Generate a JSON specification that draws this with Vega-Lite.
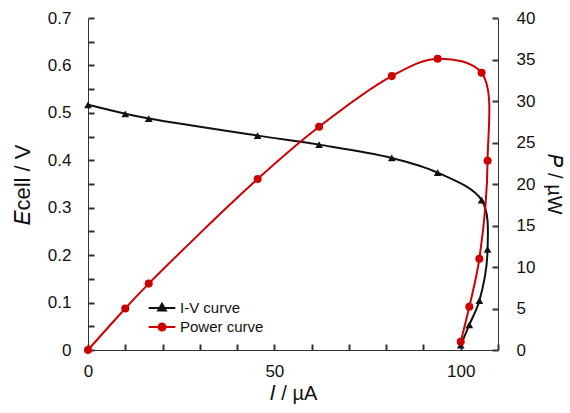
{
  "$schema": "https://vega.github.io/schema/vega-lite/v6.json",
  "width": 410,
  "height": 332,
  "autosize": "none",
  "padding": {"left": 88, "top": 18, "right": 72, "bottom": 63},
  "background": "white",
  "config": {
    "view": {"stroke": null},
    "font": "Liberation Sans",
    "axis": {
      "grid": false,
      "labelFont": "Liberation Sans",
      "labelFontSize": 17,
      "labelColor": "#111",
      "labelFlush": false,
      "titleFont": "Liberation Sans",
      "titleFontWeight": "normal",
      "titleColor": "#111"
    }
  },
  "datasets": {
    "cell": [
      {"step": 1, "I": 0, "E": 0.517, "P": 0},
      {"step": 2, "I": 10, "E": 0.498, "P": 5.0},
      {"step": 3, "I": 16.3, "E": 0.488, "P": 8.0},
      {"step": 4, "I": 45.5, "E": 0.452, "P": 20.6},
      {"step": 5, "I": 62, "E": 0.433, "P": 26.9},
      {"step": 6, "I": 81.5, "E": 0.405, "P": 33.0},
      {"step": 7, "I": 93.8, "E": 0.374, "P": 35.1},
      {"step": 8, "I": 105.6, "E": 0.316, "P": 33.4},
      {"step": 9, "I": 107.2, "E": 0.212, "P": 22.8},
      {"step": 10, "I": 105.0, "E": 0.104, "P": 11.0},
      {"step": 11, "I": 102.3, "E": 0.053, "P": 5.2},
      {"step": 12, "I": 100.0, "E": 0.010, "P": 1.0}
    ]
  },
  "layer": [
    {
      "data": {"values": []},
      "mark": {"type": "point", "opacity": 0},
      "encoding": {
        "x": {
          "field": "I", "type": "quantitative",
          "axis": {
            "orient": "bottom", "offset": -6, "domain": false, "labels": false, "title": null,
            "ticks": true, "tickSize": 6, "tickColor": "#333", "tickWidth": 2,
            "values": [0, 10, 20, 30, 40, 50, 60, 70, 80, 90, 100, 110]
          }
        },
        "y": {
          "field": "E", "type": "quantitative",
          "scale": {"domain": [0, 0.7], "nice": false},
          "axis": {
            "orient": "left", "offset": -6, "domain": false, "labels": false, "title": null,
            "ticks": true, "tickSize": 6, "tickColor": "#333", "tickWidth": 2,
            "values": [0, 0.05, 0.1, 0.15, 0.2, 0.25, 0.3, 0.35, 0.4, 0.45, 0.5, 0.55, 0.6, 0.65, 0.7]
          }
        }
      }
    },
    {
      "data": {"values": []},
      "mark": {"type": "point", "opacity": 0},
      "encoding": {
        "y": {
          "field": "P", "type": "quantitative",
          "scale": {"domain": [0, 40], "nice": false},
          "axis": {
            "orient": "right", "offset": -6, "domain": false, "labels": false, "title": null,
            "ticks": true, "tickSize": 6, "tickColor": "#333", "tickWidth": 2,
            "values": [0, 5, 10, 15, 20, 25, 30, 35, 40]
          }
        }
      }
    },
    {
      "data": {"name": "cell"},
      "mark": {
        "type": "line",
        "interpolate": "catmull-rom",
        "color": "#111",
        "strokeWidth": 2,
        "point": {"filled": true, "shape": "triangle-up", "size": 60, "color": "#111", "opacity": 1}
      },
      "encoding": {
        "x": {
          "field": "I", "type": "quantitative",
          "scale": {"domain": [0, 110], "nice": false, "zero": false},
          "axis": {
            "orient": "bottom",
            "title": "𝐼 / µA",
            "titleFontSize": 20,
            "titlePadding": 4,
            "values": [0, 50, 100],
            "labelOverlap": false,
            "domain": true,
            "domainColor": "#333",
            "ticks": false,
            "labelPadding": 13
          }
        },
        "y": {
          "field": "E", "type": "quantitative",
          "scale": {"domain": [0, 0.7], "nice": false},
          "axis": {
            "orient": "left",
            "title": "𝐸cell / V",
            "titleFontSize": 22,
            "titlePadding": 13,
            "values": [0, 0.1, 0.2, 0.3, 0.4, 0.5, 0.6, 0.7],
            "format": ".1~f",
            "labelOverlap": false,
            "domain": true,
            "domainColor": "#333",
            "ticks": false,
            "labelPadding": 17
          }
        },
        "order": {"field": "step", "type": "quantitative"}
      }
    },
    {
      "data": {"name": "cell"},
      "mark": {
        "type": "line",
        "interpolate": "catmull-rom",
        "color": "#cc0000",
        "strokeWidth": 2,
        "point": {"filled": true, "shape": "circle", "size": 65, "color": "#cc0000", "opacity": 1}
      },
      "encoding": {
        "x": {"field": "I", "type": "quantitative", "axis": null},
        "y": {
          "field": "P", "type": "quantitative",
          "scale": {"domain": [0, 40], "nice": false},
          "axis": {
            "orient": "right",
            "title": "𝑃 / µW",
            "titleFontSize": 20,
            "titlePadding": 9,
            "values": [0, 5, 10, 15, 20, 25, 30, 35, 40],
            "labelOverlap": false,
            "domain": true,
            "domainColor": "#333",
            "ticks": false,
            "labelPadding": 18
          }
        },
        "order": {"field": "step", "type": "quantitative"}
      }
    },
    {
      "data": {"values": []},
      "mark": {"type": "point", "filled": true, "strokeWidth": 2, "opacity": 1},
      "encoding": {
        "fill": {
          "field": "key", "type": "nominal",
          "scale": {"domain": ["I-V curve", "Power curve"], "range": ["#111", "#cc0000"]},
          "legend": {
            "title": null,
            "orient": "none",
            "legendX": 66,
            "legendY": 282,
            "symbolSize": 196,
            "symbolStrokeWidth": 2,
            "symbolOpacity": 1,
            "labelFontSize": 15,
            "labelFont": "Liberation Sans",
            "labelColor": "#111",
            "labelOffset": 10,
            "rowPadding": 3
          }
        },
        "stroke": {
          "field": "key", "type": "nominal",
          "scale": {"domain": ["I-V curve", "Power curve"], "range": ["#111", "#cc0000"]}
        },
        "shape": {
          "field": "key", "type": "nominal",
          "scale": {
            "domain": ["I-V curve", "Power curve"],
            "range": [
              "M-1.9,0H1.9M0,-0.6L0.55,0.35L-0.55,0.35Z",
              "M-1.9,0H1.9M0.5,0A0.5,0.5 0 1,1 -0.5,0A0.5,0.5 0 1,1 0.5,0Z"
            ]
          }
        }
      }
    }
  ],
  "resolve": {"scale": {"y": "independent"}, "axis": {"x": "independent", "y": "independent"}}
}
